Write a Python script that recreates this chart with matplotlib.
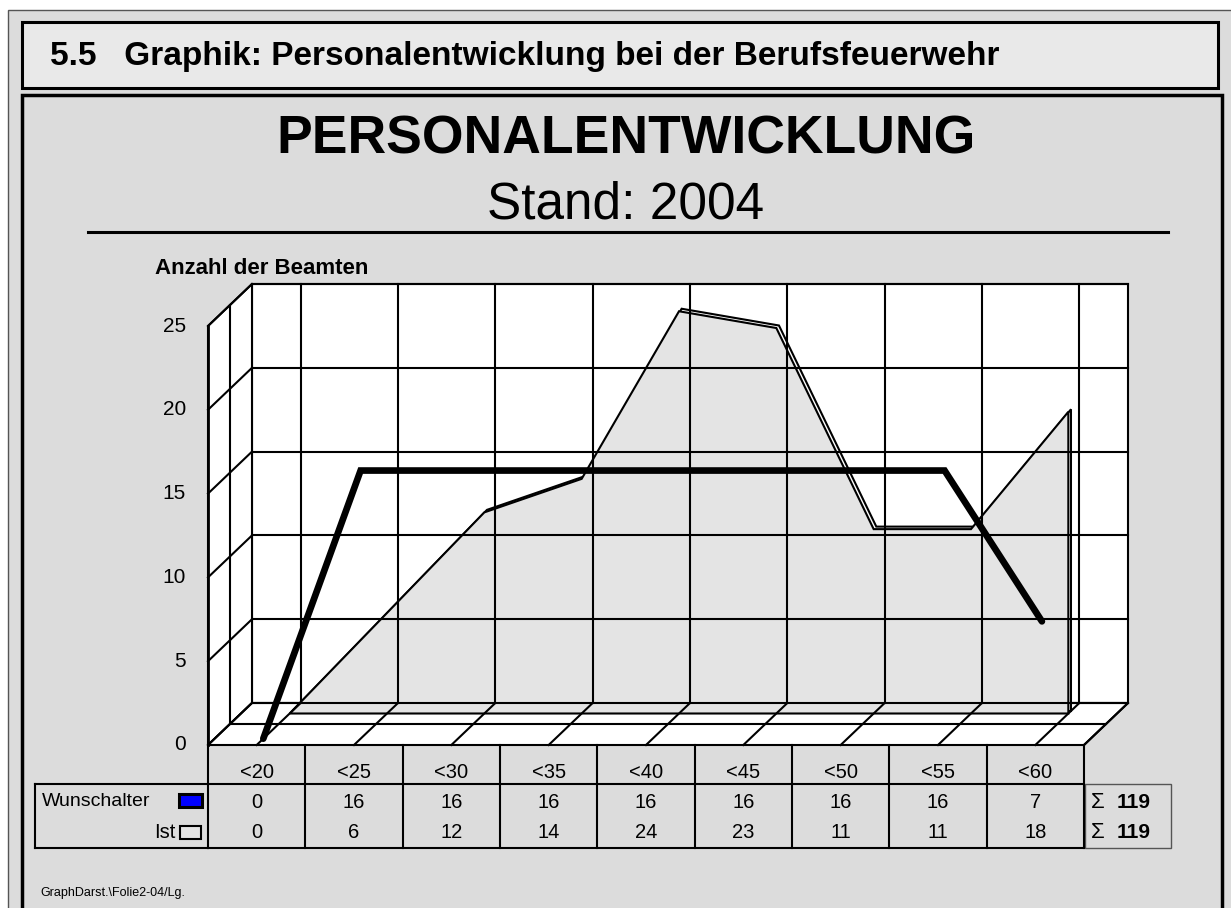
import matplotlib.pyplot as plt
import matplotlib.transforms as mtransforms
from matplotlib.patches import Rectangle, Polygon
from matplotlib.lines import Line2D
import numpy as np

plt.rcParams['font.family'] = ['Liberation Sans', 'DejaVu Sans']

kategorien = ['<20', '<25', '<30', '<35', '<40', '<45', '<50', '<55', '<60']
wunschalter = [0, 16, 16, 16, 16, 16, 16, 16, 7]
ist = [0, 6, 12, 14, 24, 23, 11, 11, 18]
y_werte = [0, 5, 10, 15, 20, 25]
summe_wunsch = 119
summe_ist = 119

W, H = 1231, 908
DX, DY = 44, 42          # tiefe der 3d-box in pixeln
T_WUNSCH = 0.15
T_IST = 0.75
LW = 1.5

fig = plt.figure(figsize=(W / 100, H / 100), dpi=100)
fig.patch.set_facecolor('white')

# hintergrund in pixelkoordinaten
bg = fig.add_axes([0, 0, 1, 1])
bg.set_xlim(0, W)
bg.set_ylim(H, 0)
bg.axis('off')

bg.add_patch(Rectangle((8, 10), W, H, facecolor='#dcdcdc', edgecolor='#555555', lw=1))
bg.add_patch(Rectangle((22, 22), 1196, 66, facecolor='#e9e9e9', edgecolor='black', lw=2.2))
bg.add_patch(Rectangle((22, 95), 1200, 830, facecolor='#dcdcdc', edgecolor='black', lw=2.5))
bg.text(50, 57, '5.5   Graphik: Personalentwicklung bei der Berufsfeuerwehr',
        fontsize=24, fontweight='bold', va='center', ha='left')

bg.text(626, 140, 'PERSONALENTWICKLUNG', fontsize=38.5, fontweight='bold', ha='center', va='center')
bg.text(626, 205, 'Stand: 2004', fontsize=37, ha='center', va='center')
bg.plot([88, 1168], [232, 232], color='black', lw=2.2)
bg.text(262, 268, 'Anzahl der Beamten', fontsize=16, fontweight='bold', ha='center', va='center')
bg.text(40, 893, 'GraphDarst.\\Folie2-04/Lg.', fontsize=9, ha='left', va='center')

# diagramm: vordere ebene
ax = fig.add_axes([208 / W, (H - 745) / H, 876 / W, 419 / H])
ax.set_xlim(-0.5, len(kategorien) - 0.5)
ax.set_ylim(0, y_werte[-1])
ax.axis('off')
ax.patch.set_visible(False)

xl, xr = -0.5, len(kategorien) - 0.5
ymax = y_werte[-1]
ident = mtransforms.IdentityTransform()


def tiefe(t):
    return mtransforms.offset_copy(ax.transData, fig=fig, x=DX * t, y=DY * t, units='dots')


def proj(punkte):
    out = []
    for x, y, t in punkte:
        px, py = ax.transData.transform((x, y))
        out.append((px + DX * t, py + DY * t))
    return np.array(out)


def flaeche(punkte, **kw):
    ax.add_patch(Polygon(proj(punkte), closed=True, transform=ident, clip_on=False, **kw))


def linie(punkte, lw=LW):
    xy = proj(punkte)
    ax.add_line(Line2D(xy[:, 0], xy[:, 1], transform=ident, color='black', lw=lw, clip_on=False))


# rueckwand
flaeche([(xl, 0, 1), (xr, 0, 1), (xr, ymax, 1), (xl, ymax, 1)], facecolor='white', edgecolor='black', lw=LW)
for i in range(len(kategorien)):
    linie([(i, 0, 1), (i, ymax, 1)])
for v in y_werte:
    linie([(xl, v, 1), (xr, v, 1)])

# seitenwand
flaeche([(xl, 0, 0), (xl, 0, 1), (xl, ymax, 1), (xl, ymax, 0)], facecolor='white', edgecolor='black', lw=LW)
for v in y_werte:
    linie([(xl, v, 0), (xl, v, 1)])
linie([(xl, 0, 0.5), (xl, ymax, 0.5)])
linie([(xl, 0, 0), (xl, ymax, 0)], lw=2)

# boden
flaeche([(xl, 0, 0), (xr, 0, 0), (xr, 0, 1), (xl, 0, 1)], facecolor='white', edgecolor='black', lw=LW)
linie([(xl, 0, 0.5), (xr, 0, 0.5)])
for i in range(len(kategorien)):
    linie([(i, 0, 0), (i, 0, 1)])
linie([(xr, 0, 0), (xr, 0, 1)])

# ist als flaeche mit schmalem band
xs = np.arange(len(kategorien))
verts = [(0, 0)] + list(zip(xs, ist)) + [(xs[-1], 0)]
ax.add_patch(Polygon(verts, transform=tiefe(T_IST + 0.06), facecolor='white',
                     edgecolor='black', lw=1.5, clip_on=False))
ax.add_patch(Polygon(verts, transform=tiefe(T_IST), facecolor='#e4e4e4',
                     edgecolor='black', lw=1.5, clip_on=False))

# wunschalter als dicke linie
ax.plot(xs, wunschalter, transform=tiefe(T_WUNSCH), color='black', lw=4.8,
        solid_joinstyle='miter', solid_capstyle='round', clip_on=False)

# y-achse beschriftung
yblend = mtransforms.blended_transform_factory(bg.transData, ax.transData)
for v in y_werte:
    bg.text(186, v, str(v), transform=yblend, ha='right', va='center', fontsize=15)

# datentabelle
blend = mtransforms.blended_transform_factory(ax.transData, bg.transData)
for b in np.arange(xl, xr + 1):
    ax.plot([b, b], [745, 848], transform=blend, color='black', lw=LW, clip_on=False)
for yy in (784, 848):
    ax.plot([xl, xr], [yy, yy], transform=blend, color='black', lw=LW, clip_on=False)
    bg.plot([35, 208], [yy, yy], color='black', lw=LW)
bg.plot([35, 35], [784, 848], color='black', lw=LW)

for i, kat in enumerate(kategorien):
    ax.text(i, 773, kat, transform=blend, ha='center', va='center', fontsize=14.5, clip_on=False)
    ax.text(i, 802, str(wunschalter[i]), transform=blend, ha='center', va='center', fontsize=14.5, clip_on=False)
    ax.text(i, 833, str(ist[i]), transform=blend, ha='center', va='center', fontsize=14.5, clip_on=False)

bg.text(42, 802, 'Wunschalter', ha='left', va='center', fontsize=14)
bg.text(176, 833, 'Ist', ha='right', va='center', fontsize=14.5)
bg.add_patch(Rectangle((179, 794), 23, 13, facecolor='#0000ff', edgecolor='black', lw=2.2))
bg.add_patch(Rectangle((180, 826), 21, 13, facecolor='#e4e4e4', edgecolor='black', lw=1.5))

bg.add_patch(Rectangle((1085, 784), 86, 64, facecolor='none', edgecolor='#555555', lw=1))
for yy, s in ((802, summe_wunsch), (833, summe_ist)):
    bg.text(1098, yy, '\u03a3', ha='center', va='center', fontsize=16)
    bg.text(1134, yy, str(s), ha='center', va='center', fontsize=15, fontweight='bold')

fig.savefig('out.png', dpi=100)
